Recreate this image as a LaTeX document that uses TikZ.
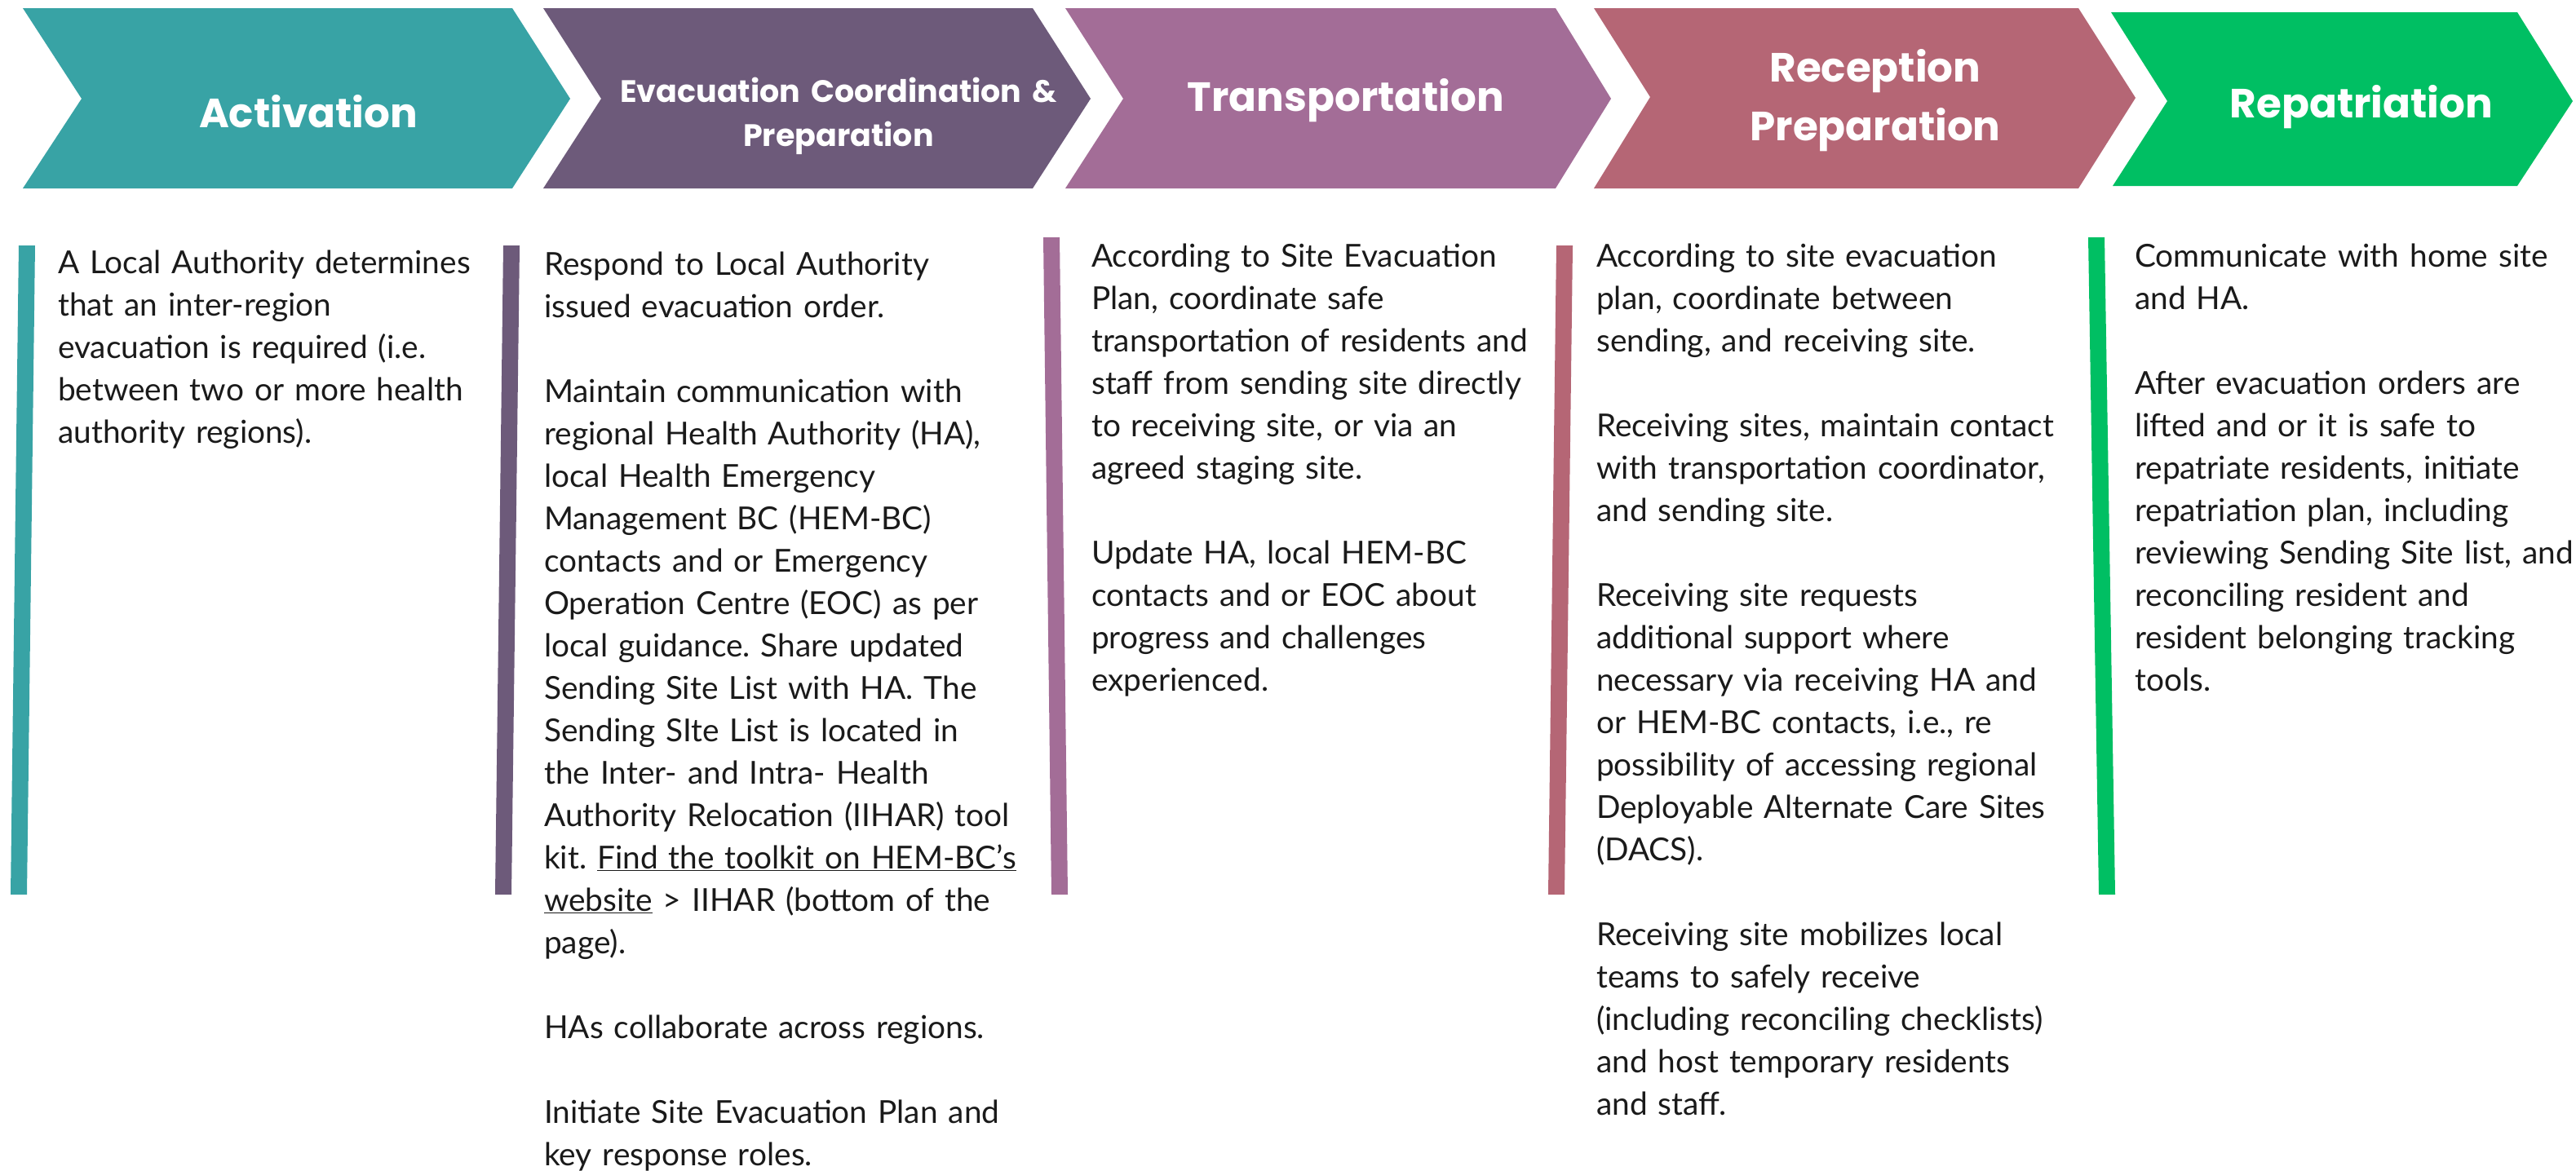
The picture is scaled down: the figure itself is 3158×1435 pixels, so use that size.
\documentclass[tikz,border=0pt]{standalone}
\usepackage{fontspec}
\setmainfont{Lato}
\newfontfamily\titlefont{Poppins}
\frenchspacing
\definecolor{cteal}{HTML}{38A3A5}
\definecolor{cpurple}{HTML}{6D5A7A}
\definecolor{cmauve}{HTML}{A36D97}
\definecolor{crose}{HTML}{B56675}
\definecolor{cgreen}{HTML}{00BF63}
\definecolor{ctext}{HTML}{1A1A1A}
\tikzset{
  title/.style={text=white, inner sep=0pt, anchor=base, text width=600pt, align=center,
    font=\titlefont\bfseries\fontsize{50}{72}\selectfont},
  smalltitle/.style={title, font=\titlefont\bfseries\fontsize{38}{54}\selectfont},
  body/.style={text=ctext, inner sep=0pt, anchor=base west, align=left,
    font=\frenchspacing\fontsize{38.8}{52}\selectfont},
}
\begin{document}
\begin{tikzpicture}[x=1pt,y=-1pt]
\useasboundingbox (0,0) rectangle (3158,1435);
\fill[white] (0,0) rectangle (3158,1435);
% chevrons
\fill[cteal]   (28,10) -- (628,10) -- (699,121) -- (628,231) -- (28,231) -- (100,121) -- cycle;
\fill[cpurple] (666,10) -- (1266,10) -- (1337,121) -- (1266,231) -- (666,231) -- (737,121) -- cycle;
\fill[cmauve]  (1306,10) -- (1907,10) -- (1975,121) -- (1907,231) -- (1306,231) -- (1377,121) -- cycle;
\fill[crose]   (1954,10) -- (2548,10) -- (2618,120) -- (2548,231) -- (1954,231) -- (2023,119) -- cycle;
\fill[cgreen]  (2588,15) -- (3086,15) -- (3154,124) -- (3086,228) -- (2590,228) -- (2657,124) -- cycle;
% titles
\node[title] (t1) at (378,156) {Activation};
\node[smalltitle] (t2) at (1028,125) {Evacuation Coordination \&\\Preparation};
\node[title] (t3) at (1650,136) {Transportation};
\node[title] (t4) at (2299,100) {Reception\\Preparation};
\node[title, text width=480pt] (t5) at (2895,144) {Repatriation};
% bars
\fill[cteal]   (23,301) -- (43,301) -- (33,1097) -- (13,1097) -- cycle;
\fill[cpurple] (617,301) -- (637,301) -- (627,1097) -- (607,1097) -- cycle;
\fill[cmauve]  (1279,291) -- (1299,291) -- (1309,1097) -- (1289,1097) -- cycle;
\fill[crose]   (1908,301) -- (1928,301) -- (1918,1097) -- (1898,1097) -- cycle;
\fill[cgreen]  (2560,291) -- (2580,291) -- (2593,1097) -- (2573,1097) -- cycle;
% body texts
\node[body, text width=530pt] (b1) at (71,335) {A Local Authority determines\\
that an inter-region\\
evacuation is required (i.e.\\
between two or more health\\
authority regions).};
\node[body, text width=590pt] (b2) at (667,337) {Respond to Local Authority\\
issued evacuation order.\\[52pt]
Maintain communication with\\
regional Health Authority (HA),\\
local Health Emergency\\
Management BC (HEM-BC)\\
contacts and or Emergency\\
Operation Centre (EOC) as per\\
local guidance. Share updated\\
Sending Site List with HA. The\\
Sending SIte List is located in\\
the Inter- and Intra- Health\\
Authority Relocation (IIHAR) tool\\
kit. \underline{Find the toolkit on HEM-BC’s}\\
\underline{website} > IIHAR (bottom of the\\
page).\\[52pt]
HAs collaborate across regions.\\[52pt]
Initiate Site Evacuation Plan and\\
key response roles.};
\node[body, text width=590pt] (b3) at (1338,327) {According to Site Evacuation\\
Plan, coordinate safe\\
transportation of residents and\\
staff from sending site directly\\
to receiving site, or via an\\
agreed staging site.\\[52pt]
Update HA, local HEM-BC\\
contacts and or EOC about\\
progress and challenges\\
experienced.};
\node[body, text width=600pt] (b4) at (1957,327) {According to site evacuation\\
plan, coordinate between\\
sending, and receiving site.\\[52pt]
Receiving sites, maintain contact\\
with transportation coordinator,\\
and sending site.\\[52pt]
Receiving site requests\\
additional support where\\
necessary via receiving HA and\\
or HEM-BC contacts, i.e., re\\
possibility of accessing regional\\
Deployable Alternate Care Sites\\
(DACS).\\[52pt]
Receiving site mobilizes local\\
teams to safely receive\\
(including reconciling checklists)\\
and host temporary residents\\
and staff.};
\node[body, text width=540pt] (b5) at (2617,327) {Communicate with home site\\
and HA.\\[52pt]
After evacuation orders are\\
lifted and or it is safe to\\
repatriate residents, initiate\\
repatriation plan, including\\
reviewing Sending Site list, and\\
reconciling resident and\\
resident belonging tracking\\
tools.};
\end{tikzpicture}
\end{document}
